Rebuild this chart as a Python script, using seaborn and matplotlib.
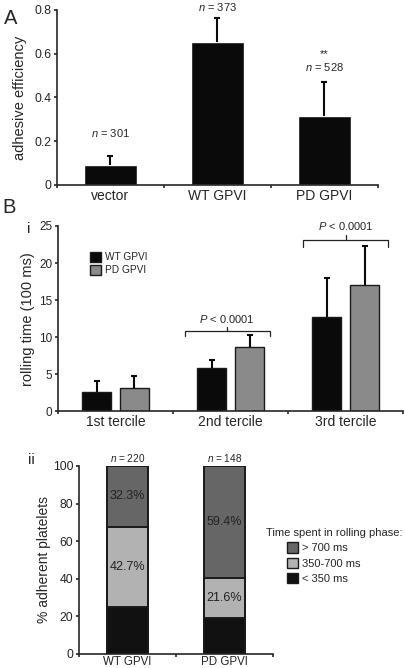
import numpy as np
import pandas as pd
import seaborn as sns
import matplotlib.pyplot as plt
from matplotlib.patches import Patch
from matplotlib.ticker import FixedLocator, FuncFormatter

# panel A
constructs = ['vector', 'WT GPVI', 'PD GPVI']
adh_eff = [0.091, 0.655, 0.317]
adh_err = [0.043, 0.107, 0.155]
n_adh = [301, 373, 528]

# panel B(i)
terciles = ['1st tercile', '2nd tercile', '3rd tercile']
wt_roll = [2.56, 5.88, 12.77]
wt_roll_err = [1.57, 1.04, 5.22]
pd_roll = [3.15, 8.72, 17.04]
pd_roll_err = [1.65, 1.62, 5.31]

# panel B(ii)
genotypes = ['WT GPVI', 'PD GPVI']
lt350 = [25.0, 19.0]
mid350_700 = [42.7, 21.6]
gt700 = [32.3, 59.4]
n_roll = [220, 148]

sns.set_style('ticks')
plt.rcParams['font.family'] = ['Liberation Sans', 'DejaVu Sans']
plt.rcParams['mathtext.fontset'] = 'custom'
plt.rcParams['mathtext.it'] = 'Liberation Sans:italic'
plt.rcParams['mathtext.rm'] = 'Liberation Sans'
plt.rcParams['axes.linewidth'] = 1.2
plt.rcParams['xtick.major.width'] = 1.2
plt.rcParams['ytick.major.width'] = 1.2
plt.rcParams['xtick.minor.width'] = 1.2
plt.rcParams['ytick.major.size'] = 2.5
plt.rcParams['ytick.major.pad'] = 1.5
plt.rcParams['xtick.minor.size'] = 2.5

fig = plt.figure(figsize=(4.05, 6.68), dpi=100)
axA = fig.add_axes([0.1407, 0.7231, 0.7926, 0.262])
axB = fig.add_axes([0.1432, 0.3843, 0.852, 0.2774])
axC = fig.add_axes([0.195, 0.021, 0.479, 0.2814])


def boundary_ticks(ax, n, pad=3):
    ax.xaxis.set_minor_locator(FixedLocator(np.arange(n + 1) - 0.5))
    ax.tick_params(axis='x', which='major', length=0, pad=pad)
    ax.tick_params(axis='x', which='minor', length=2.5)


def up_errors(ax, xs, ys, errs):
    eb = ax.errorbar(xs, ys, yerr=[np.zeros(len(errs)), errs], fmt='none',
                     ecolor='#0a0a0a', elinewidth=1.5, capsize=2.3, capthick=1.5)
    eb.lines[1][0].set_visible(False)  # hide the cap sitting on the bar top


# ---- A ----
dfA = pd.DataFrame({'construct': constructs, 'eff': adh_eff})
sns.barplot(data=dfA, x='construct', y='eff', color='#0a0a0a', saturation=1,
            width=0.49, errorbar=None, ax=axA)
xA = np.arange(len(constructs))
up_errors(axA, xA, adh_eff, adh_err)
axA.set_ylim(0, 0.8)
axA.set_xlim(-0.5, 2.5)
axA.set_yticks([0, 0.2, 0.4, 0.6, 0.8])
axA.yaxis.set_major_formatter(FuncFormatter(lambda v, p: '0' if v == 0 else f'{v:.1f}'))
axA.set_xlabel('')
axA.set_ylabel('adhesive efficiency', fontsize=10.5)
axA.yaxis.set_label_coords(-0.093, 0.5)
axA.tick_params(axis='y', labelsize=8.8)
axA.tick_params(axis='x', labelsize=10)
boundary_ticks(axA, 3)
for x, n, y in zip(xA, n_adh, [0.238, 0.812, 0.54]):
    axA.text(x, y, f'$n$ = {n}', ha='center', va='center', fontsize=8, clip_on=False)
axA.text(2, 0.60, '**', ha='center', va='center', fontsize=8)
sns.despine(ax=axA)

# ---- B(i) ----
dfB = pd.DataFrame({
    'tercile': terciles * 2,
    'time': wt_roll + pd_roll,
    'genotype': ['WT GPVI'] * 3 + ['PD GPVI'] * 3,
})
sns.barplot(data=dfB, x='tercile', y='time', hue='genotype',
            palette=['#0a0a0a', '#8a8a8a'], saturation=1, width=0.66, gap=0.25,
            errorbar=None, edgecolor='#1a1a1a', linewidth=1.0, ax=axB, legend=False)
for cont, errs in zip(axB.containers, [wt_roll_err, pd_roll_err]):
    xs = [p.get_x() + p.get_width() / 2 for p in cont.patches]
    hs = [p.get_height() for p in cont.patches]
    up_errors(axB, xs, hs, errs)
axB.set_ylim(0, 25)
axB.set_xlim(-0.5, 2.5)
axB.set_yticks([0, 5, 10, 15, 20, 25])
axB.set_xlabel('')
axB.set_ylabel('rolling time (100 ms)', fontsize=10.5)
axB.yaxis.set_label_coords(-0.066, 0.5)
axB.tick_params(axis='y', labelsize=8.5)
axB.tick_params(axis='x', labelsize=10)
boundary_ticks(axB, 3)
sns.despine(ax=axB)
axB.legend(handles=[Patch(facecolor='#0a0a0a', edgecolor='#1a1a1a', label='WT GPVI'),
                    Patch(facecolor='#8a8a8a', edgecolor='#1a1a1a', label='PD GPVI')],
           loc='upper left', bbox_to_anchor=(0.093, 0.86), frameon=False, fontsize=7.3,
           handlelength=1.1, handleheight=1.1, handletextpad=0.4, labelspacing=0.25,
           borderaxespad=0, borderpad=0)


def bracket(ax, x0, x1, y, drop, rise, label):
    ax.plot([x0, x0, x1, x1], [y - drop, y, y, y - drop], color='#222222', lw=0.9,
            clip_on=False)
    xm = (x0 + x1) / 2
    ax.plot([xm, xm], [y, y + rise], color='#222222', lw=0.9, clip_on=False)
    ax.text(xm, y + rise + 0.35, label, ha='center', va='bottom', fontsize=8,
            clip_on=False)


bracket(axB, 0.6, 1.34, 10.84, 0.75, 0.5, '$P$ < 0.0001')
bracket(axB, 1.63, 2.37, 23.1, 0.9, 0.7, '$P$ < 0.0001')

# ---- B(ii) ----
lt = np.array(lt350)
mid_top = lt + np.array(mid350_700)
tot = mid_top + np.array(gt700)
cols = {'> 700 ms': '#666666', '350-700 ms': '#b2b2b2', '< 350 ms': '#111111'}
for heights, col in zip([tot, mid_top, lt], cols.values()):
    sns.barplot(x=genotypes, y=heights, color=col, saturation=1, width=0.42,
                errorbar=None, edgecolor='#1a1a1a', linewidth=1.4, ax=axC)
axC.set_ylim(0, 100)
axC.set_xlim(-0.5, 1.5)
axC.set_yticks([0, 20, 40, 60, 80, 100])
axC.set_ylabel('% adherent platelets', fontsize=10)
axC.yaxis.set_label_coords(-0.145, 0.5)
axC.tick_params(axis='both', labelsize=8.8)
axC.tick_params(axis='x', labelsize=8.3)
boundary_ticks(axC, 2, pad=1.5)
sns.despine(ax=axC)
for i in range(2):
    axC.text(i, (mid_top[i] + tot[i]) / 2, f'{gt700[i]}%', ha='center', va='center',
             fontsize=9, color='#222222')
    axC.text(i, (lt[i] + mid_top[i]) / 2, f'{mid350_700[i]}%', ha='center', va='center',
             fontsize=9, color='#222222')
    axC.text(i, 104.5, f'$n$ = {n_roll[i]}', ha='center', va='center', fontsize=7.2,
             clip_on=False)

fig.text(0.657, 0.202, 'Time spent in rolling phase:', fontsize=8, ha='left', va='center')
fig.legend(handles=[Patch(facecolor=c, edgecolor='#1a1a1a', label=l) for l, c in cols.items()],
           loc='upper left', bbox_to_anchor=(0.708, 0.188), frameon=False, fontsize=8,
           handlelength=1.05, handleheight=1.05, handletextpad=0.35, labelspacing=0.4,
           borderaxespad=0, borderpad=0)

# panel letters
fig.text(0.01, 0.973, 'A', fontsize=14.5, ha='left', va='center')
fig.text(0.005, 0.689, 'B', fontsize=14.5, ha='left', va='center')
fig.text(0.072, 0.657, 'i', fontsize=11, ha='center', va='center')
fig.text(0.078, 0.312, 'ii', fontsize=11, ha='center', va='center')

fig.savefig('out.png', dpi=100)
